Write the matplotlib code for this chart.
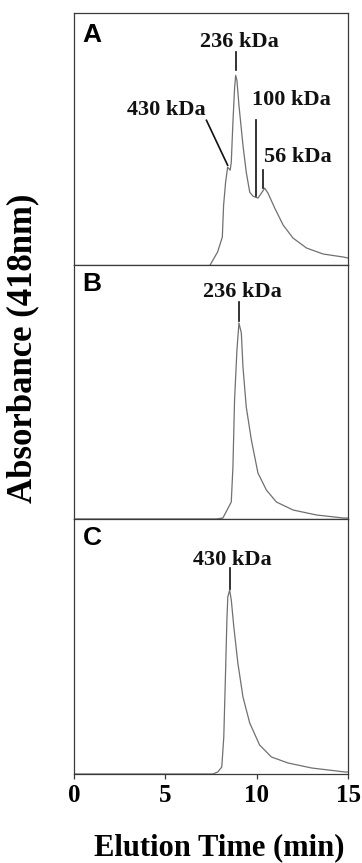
import matplotlib
matplotlib.use("Agg")
import matplotlib.pyplot as plt
from matplotlib import font_manager

# ---------------- data (absorbance in arbitrary units) ----------------
time_a = [7.20, 7.45, 7.86, 8.12, 8.19, 8.30, 8.41, 8.55, 8.61, 8.70, 8.79, 8.85,
          8.92, 9.03, 9.25, 9.43, 9.62, 9.80, 10.07, 10.26, 10.44, 10.62, 10.99,
          11.45, 11.99, 12.73, 13.64, 14.74, 15.0]
abs_a = [-15, 0, 13, 28, 60, 83, 98, 95, 103, 143, 177, 190,
         185, 160, 120, 93, 73, 69, 67, 72, 77, 72, 57,
         40, 27, 17, 11, 8, 7]

time_b = [0.0, 7.80, 8.15, 8.61, 8.70, 8.79, 8.92, 9.03, 9.16, 9.25, 9.43, 9.71,
          10.07, 10.53, 11.08, 11.99, 13.28, 14.74, 15.0]
abs_b = [0, 0, 1, 17, 52, 119, 169, 196, 186, 152, 112, 79,
         46, 29, 17, 9, 4, 1, 1]

time_c = [0.0, 7.60, 7.87, 8.09, 8.20, 8.30, 8.37, 8.42, 8.52, 8.61, 8.75, 8.97,
          9.25, 9.62, 10.16, 10.81, 11.72, 13.01, 14.84, 15.0]
abs_c = [0, 0, 2, 7, 37, 104, 154, 177, 184, 174, 147, 111,
         77, 51, 29, 17, 11, 6, 2, 2]

panel_labels = ["A", "B", "C"]
ylims = [(0, 253), (0, 254), (0, 255)]

# annotations: (text, text_x, text_y, line_x0, line_y0, line_x1, line_y1)
annots = [
    [("236 kDa", 9.07, 223, 8.85, 213, 8.85, 195),
     ("430 kDa", 5.05, 155, 7.25, 145, 8.41, 100),
     ("100 kDa", 11.92, 165, 9.98, 145, 9.98, 69),
     ("56 kDa", 12.25, 108, 10.35, 95, 10.35, 77)],
    [("236 kDa", 9.23, 227, 9.03, 217, 9.03, 198)],
    [("430 kDa", 8.68, 214, 8.52, 206, 8.52, 185)],
]
xticks = [0, 5, 10, 15]
xlabel = "Elution Time (min)"
ylabel = "Absorbance (418nm)"

# ---------------- figure ----------------
names = {f.name for f in font_manager.fontManager.ttflist}
serif = "Liberation Serif"
sans = "Liberation Sans Narrow" if "Liberation Sans Narrow" in names else "Liberation Sans"

plt.rcParams["font.family"] = serif
plt.rcParams["font.weight"] = "bold"

W, H = 362, 863
fig = plt.figure(figsize=(W / 100, H / 100), dpi=100)

left, right = 74, 348
tops = [12.5, 265, 519]
bottoms = [265, 519, 774]
series = [(time_a, abs_a), (time_b, abs_b), (time_c, abs_c)]

for i in range(3):
    ax = fig.add_axes([left / W, 1 - bottoms[i] / H, (right - left) / W,
                       (bottoms[i] - tops[i]) / H])
    t, a = series[i]
    ax.plot(t, a, color="#707070", lw=0.9)
    ax.set_xlim(0, 15)
    ax.set_ylim(*ylims[i])
    for s in ax.spines.values():
        s.set_color("#3a3a3a")
        s.set_linewidth(0.9)
    ax.set_yticks([])
    if i < 2:
        ax.set_xticks([])
    else:
        ax.set_xticks(xticks)
        ax.tick_params(axis="x", direction="out", length=3.5, width=0.9,
                       pad=4, color="#3a3a3a", labelsize=18)
    ax.text(0.066, 0.91 if i == 0 else 0.925, panel_labels[i], transform=ax.transAxes,
            ha="center", va="center", fontfamily=sans, fontweight="bold", fontsize=19)
    for (txt, tx, ty, x0, y0, x1, y1) in annots[i]:
        ax.text(tx, ty, txt, ha="center", va="center", fontfamily=serif,
                fontweight="bold", fontsize=16, color="#111111")
        ax.plot([x0, x1], [y0, y1], color="#111111", lw=1.2)

fig.text(219 / W, 1 - 848 / H, xlabel, ha="center", va="center",
         fontfamily=serif, fontweight="bold", fontsize=22)
fig.text(23 / W, 1 - 348 / H, ylabel, ha="center", va="center", rotation=90,
         fontfamily=serif, fontweight="bold", fontsize=25)

fig.savefig("out.png", dpi=100)
